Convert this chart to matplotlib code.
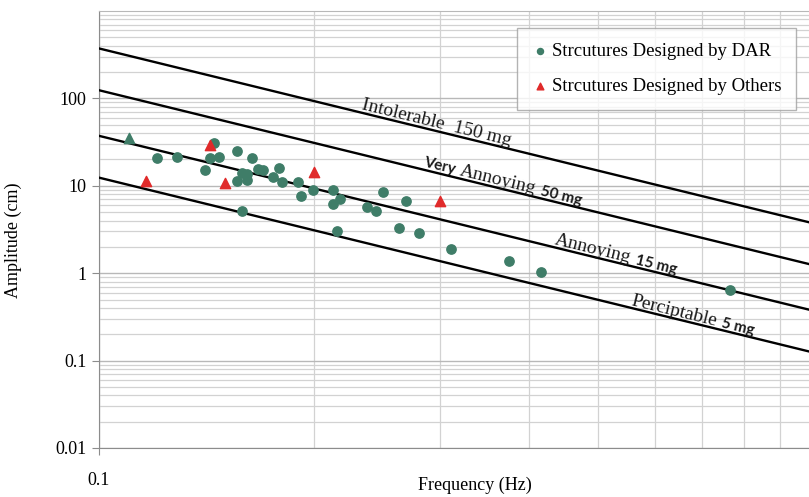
import numpy as np
import matplotlib.pyplot as plt
from matplotlib.ticker import FixedLocator, FixedFormatter, NullFormatter
from matplotlib.transforms import IdentityTransform

# ----------- DATA ---------------------------------------
dar_freq = [0.1206, 0.1286, 0.1408, 0.1431, 0.1449, 0.1473, 0.1561, 0.1561,
            0.1586, 0.1612, 0.1612, 0.1638, 0.1586, 0.1670, 0.1697, 0.1752,
            0.1787, 0.1804, 0.1899, 0.1918, 0.1994, 0.2127, 0.2127, 0.2175,
            0.2154, 0.2374, 0.2443, 0.2499, 0.2692, 0.2632, 0.2807, 0.3112,
            0.3752, 0.4159, 0.7652]
dar_amp = [20.9, 21.5, 15.3, 20.9, 31.1, 21.5, 25.2, 11.4,
           14.1, 13.7, 11.7, 20.9, 5.17, 15.7, 15.3, 12.7,
           16.1, 11.1, 11.1, 7.68, 9.0, 9.0, 6.22, 7.10,
           3.05, 5.75, 5.17, 8.54, 6.73, 3.30, 2.89, 1.90,
           1.38, 1.03, 0.644]

others_freq = [0.1164, 0.1431, 0.1502, 0.2000, 0.3003]
others_amp = [11.4, 29.5, 10.8, 14.5, 6.73]

# point drawn as a green triangle in the original
mixed_freq = [0.1102]
mixed_amp = [35.5]

limit_freq = [0.1, 1.0]
limit_amp = [[373, 3.73], [124, 1.24], [37.3, 0.373], [12.4, 0.124]]

limit_labels = [
    [('Intolerable  150 mg', 'serif')],
    [('Very', 'bold'), ('Annoying', 'serif'), ('50 mg', 'bold')],
    [('Annoying', 'serif'), ('15 mg', 'bold')],
    [('Perciptable', 'serif'), ('5 mg', 'bold')],
]
label_start = [0.232, 0.2835, 0.4325, 0.554]

y_ticks = [0.01, 0.1, 1, 10, 100]
y_ticklabels = ['0.01', '0.1', '1', '10', '100']

green = '#3f7d68'
red = '#e02a2a'
serif = 'Liberation Serif'

# ----------- FIGURE --------------
fig = plt.figure(figsize=(8.09, 4.97), dpi=100)
ax = fig.add_axes([99 / 809, 49 / 497, 710 / 809, 437 / 497])

ax.set_xscale('log')
ax.set_yscale('log')
ax.set_xlim(0.1, 10 ** ((809 - 99) / 714 - 1))
ax.set_ylim(0.01, 1000)

# grid
ax.yaxis.set_major_locator(FixedLocator(y_ticks))
ax.yaxis.set_major_formatter(FixedFormatter(y_ticklabels))
minor_y = [m * 10.0 ** e for e in range(-2, 3) for m in range(2, 10)]
ax.yaxis.set_minor_locator(FixedLocator(minor_y))
ax.yaxis.set_minor_formatter(NullFormatter())
ax.xaxis.set_major_locator(FixedLocator([0.1, 1]))
ax.xaxis.set_major_formatter(FixedFormatter(['0.1', '1']))
ax.xaxis.set_minor_locator(FixedLocator([m * 0.1 for m in range(2, 10)]))
ax.xaxis.set_minor_formatter(NullFormatter())

ax.grid(True, which='major', color='#b8b8b8', lw=1.0)
ax.grid(True, which='minor', color='#d2d2d2', lw=0.9)
ax.set_axisbelow(True)

ax.spines['right'].set_visible(False)
for s in ['left', 'bottom']:
    ax.spines[s].set_color('#8c8c8c')
ax.spines['top'].set_color('#b8b8b8')
ax.tick_params(which='major', direction='out', length=5, color='#8c8c8c',
               labelsize=13, pad=4)
ax.tick_params(which='minor', length=0)
ax.tick_params(axis='x', pad=12)
for lab in ax.get_xticklabels() + ax.get_yticklabels():
    lab.set_fontfamily(serif)

# limit lines
for amps in limit_amp:
    ax.plot(limit_freq, amps, color='black', lw=1.7, zorder=3)

# points
ax.scatter(dar_freq, dar_amp, s=45, marker='o', color=green, zorder=4,
           label='Strcutures Designed by DAR')
ax.scatter(others_freq, others_amp, s=55, marker='^', color=red, zorder=4,
           label='Strcutures Designed by Others')
ax.scatter(mixed_freq, mixed_amp, s=55, marker='^', color=green, zorder=5)

ax.set_xlabel('Frequency (Hz)', fontfamily=serif, fontsize=13)
ax.xaxis.set_label_coords(0.53, -0.065)
ax.set_ylabel('Amplitude (cm)', fontfamily=serif, fontsize=13)
ax.yaxis.set_label_coords(-0.108, 0.476)

leg = ax.legend(loc='upper right', bbox_to_anchor=(0.982, 0.962),
                prop={'family': serif, 'size': 13.5}, frameon=True,
                fancybox=False, edgecolor='#a0a0a0', markerscale=0.65,
                handlelength=0.8, handletextpad=0.25, borderpad=0.8,
                labelspacing=0.95, borderaxespad=0)
leg.get_frame().set_linewidth(1.0)

# rotated labels along the limit lines, built piece by piece
renderer = fig.canvas.get_renderer()
gap = 5
for amps, pieces, f0 in zip(limit_amp, limit_labels, label_start):
    p0 = ax.transData.transform((limit_freq[0], amps[0]))
    p1 = ax.transData.transform((limit_freq[1], amps[1]))
    d = (p1 - p0) / np.hypot(*(p1 - p0))
    normal = np.array([-d[1], d[0]])
    if normal[1] < 0:
        normal = -normal
    ang = np.degrees(np.arctan2(d[1], d[0]))
    t = (np.log10(f0) - np.log10(limit_freq[0])) / (np.log10(limit_freq[1]) - np.log10(limit_freq[0]))
    pos = p0 + t * (p1 - p0) + normal * 3
    for txt, kind in pieces:
        if kind == 'serif':
            kw = dict(fontfamily=serif, fontsize=14)
        else:
            kw = dict(fontfamily='Lato', fontsize=11, fontweight='bold')
        probe = fig.text(0, 0, txt, **kw)
        w = probe.get_window_extent(renderer).width
        probe.remove()
        ax.text(pos[0], pos[1], txt, transform=IdentityTransform(), rotation=ang,
                rotation_mode='anchor', ha='left', va='baseline', zorder=6,
                color='#1a1a1a', **kw)
        pos = pos + d * (w + gap)

fig.savefig('out.png', dpi=100)
